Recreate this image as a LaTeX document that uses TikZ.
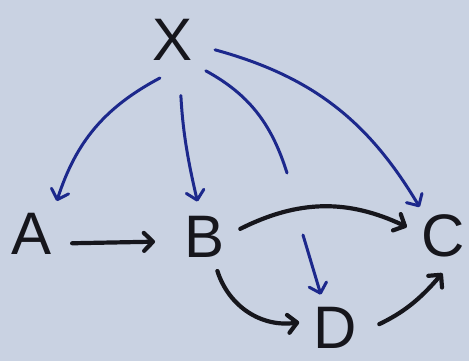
\documentclass[tikz,border=0pt]{standalone}
\usepackage{fontspec}
\setmainfont{Liberation Sans}
\usetikzlibrary{arrows.meta}
\definecolor{paper}{RGB}{201,210,226}
\definecolor{ink}{RGB}{22,22,28}
\definecolor{pen}{RGB}{28,40,140}
\begin{document}
\begin{tikzpicture}[x=1pt,y=1pt, letter/.style={circle,inner sep=0pt,font=\fontsize{60}{60}\selectfont,text=ink}, blk/.style={draw=ink,line width=4.2pt,line cap=round,-{Straight Barb[length=9pt,width=18pt,round]}}, blu/.style={draw=pen,line width=3pt,line cap=round,-{Straight Barb[length=9pt,width=18pt,round]}}]
\fill[paper] (0,0) rectangle (469,361);
\useasboundingbox (0,0) rectangle (469,361);
\node[letter,minimum size=80pt] (X) at (173,321) {X};
\node[letter,minimum size=82pt] (A) at (32,127) {A};
\node[letter,minimum size=72pt] (B) at (205,124) {B};
\node[letter,minimum size=74pt] (C) at (443,125) {C};
\node[letter,minimum size=72pt] (D) at (335,33) {D};
\coordinate (gapT) at (287,188);
\coordinate (gapB) at (303,126);
% X edges
\draw[blu] (X.251) to[bend right=22] (A.53);
\draw[blu,shorten <=16pt] (X.280) to[bend right=5] (B.102);
\draw[blu,-,shorten <=5pt] (X.315) to[bend left=22] (gapT);
\draw[blu] (gapB) -- (D.113);
\draw[blu,shorten <=3pt] (X.347) to[bend left=22] (C.129);
% black edges
\draw[blk,shorten >=14pt] (A.347) -- (B.187);\draw[blk] (B.13) to[bend left=26] (C.166);\draw[blk] (B.290) to[bend right=40] (D.171);\draw[blk,shorten <=9pt] (D.0) to[bend right=12] (C.269);
\end{tikzpicture}
\end{document}
